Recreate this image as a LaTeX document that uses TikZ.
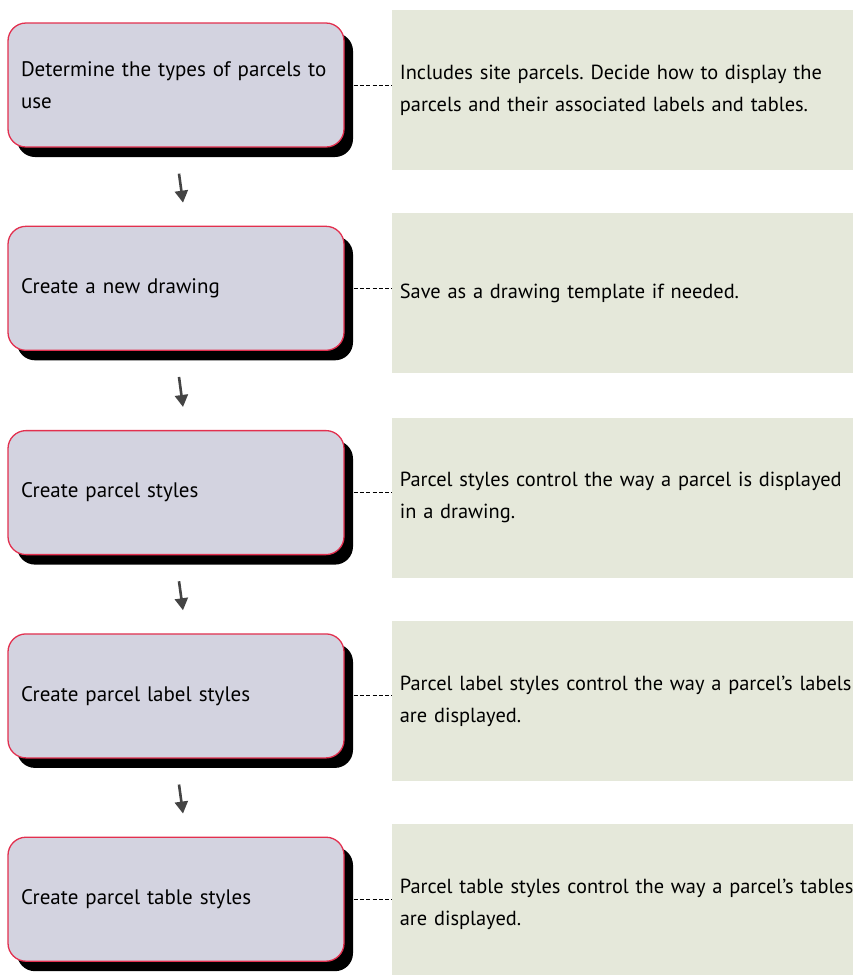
\documentclass[tikz,border=0pt]{standalone}
\usepackage{fontspec}
\setmainfont{PT Sans}
\usepackage{tikz}
\usetikzlibrary{arrows.meta}
\usetikzlibrary{positioning}
\usetikzlibrary{shadows}
\definecolor{stepfill}{HTML}{D3D3E0}
\definecolor{stepline}{HTML}{E2304F}
\definecolor{notefill}{HTML}{E5E8DA}
\definecolor{arrowgray}{HTML}{444444}
\newcommand{\stepnode}[3]{\node(#1)[stepbox,#2]{#3}}
\newcommand{\notenode}[3]{\node(#1)[notebox,right=47pt of #2,yshift=-5pt]{#3}}
\frenchspacing

\begin{document}
\begin{tikzpicture}[
        x=1pt, y=1pt,
        every node/.style={font=\fontsize{21}{32}\selectfont},
        stepbox/.style={rectangle,rounded corners=18pt,draw=stepline,line width=1.3pt,
                        fill=stepfill,text width=310pt,inner xsep=13pt,minimum height=124pt,
                        align=left,general shadow={fill=black,shadow xshift=9pt,shadow yshift=-10pt}},
        notebox/.style={rectangle,fill=notefill,text width=520pt,inner xsep=8pt,
                        minimum height=160pt,align=left,font=\fontsize{20.4}{32}\selectfont},
        link/.style={draw=black,line width=0.9pt,dash pattern=on 4pt off 2.3pt},
        flow/.style={draw=arrowgray,line width=2.6pt,-{Triangle[length=12pt,width=13pt]}}
      ]
      \useasboundingbox (0,0) rectangle (852,-975);
      \stepnode{step1}{at={(176,-85)}}{Determine the types of parcels to\\use};
      \stepnode{step2}{below=78pt of step1}{Create a new drawing};
      \stepnode{step3}{below=79pt of step2}{Create parcel styles};
      \stepnode{step4}{below=78pt of step3}{Create parcel label styles};
      \stepnode{step5}{below=78pt of step4}{Create parcel table styles};
      \notenode{note1}{step1}{Includes site parcels. Decide how to display the\\parcels and their associated labels and tables.};
      \notenode{note2}{step2}{Save as a drawing template if needed.};
      \notenode{note3}{step3}{Parcel styles control the way a parcel is displayed\\in a drawing.};
      \notenode{note4}{step4}{Parcel label styles control the way a parcel's labels\\are displayed.};
      \notenode{note5}{step5}{Parcel table styles control the way a parcel's tables\\are displayed.};
      \draw[link] ([xshift=9pt]step1.east) -- (step1.east -| note1.west);
      \draw[link] ([xshift=9pt]step2.east) -- (step2.east -| note2.west);
      \draw[link] ([xshift=9pt]step3.east) -- (step3.east -| note3.west);
      \draw[link] ([xshift=9pt]step4.east) -- (step4.east -| note4.west);
      \draw[link] ([xshift=9pt]step5.east) -- (step5.east -| note5.west);
      \draw[flow] ([xshift=3pt,yshift=-26pt]step1.south) -- ([xshift=7pt,yshift=23pt]step2.north);
      \draw[flow] ([xshift=3pt,yshift=-26pt]step2.south) -- ([xshift=7pt,yshift=23pt]step3.north);
      \draw[flow] ([xshift=3pt,yshift=-26pt]step3.south) -- ([xshift=7pt,yshift=23pt]step4.north);
      \draw[flow] ([xshift=3pt,yshift=-26pt]step4.south) -- ([xshift=7pt,yshift=23pt]step5.north);
    \end{tikzpicture}
\end{document}
